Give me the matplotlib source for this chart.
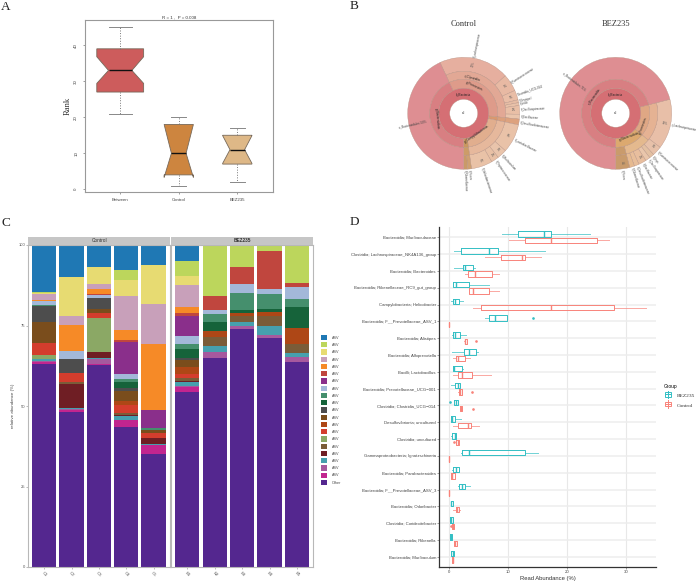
import matplotlib
matplotlib.use("Agg")
import matplotlib.pyplot as plt
from matplotlib.patches import Patch, Rectangle
from matplotlib.lines import Line2D
from matplotlib.legend_handler import HandlerBase
import numpy as np

W, H = 696, 581
SERIF = "Liberation Serif"
SANS = "Liberation Sans"
plt.rcParams["font.family"] = SANS

# ---------- Panel A ----------
a_labels = ["Between", "Control", "BEZ235"]
a_lo = [21, 1, 2]
a_q1 = [27, 4, 7]
a_med = [33, 10, 11]
a_q3 = [39, 18, 15]
a_hi = [45, 20, 17]
a_cilo = [29.4, 3.3, 7.2]
a_cihi = [36.8, 18.0, 14.9]
a_colors = ["#CD5C5C", "#CD853F", "#DEB887"]
a_widths = [0.8, 0.5, 0.5]

# ---------- Panel B ----------
b_titles = ["Control", "BEZ235"]
ctrl_start = 335
ctrl_outer = [73, 18, 10, 3, 3, 9, 5, 6, 30, 10, 8, 22, 4, 4, 155]
ctrl_outer_colors = ["#E6AF9F", "#E8B9A3", "#E9BDA6", "#E6BCA4", "#E9C2A9", "#E9BFA6", "#EAC5AC",
                     "#DDA27E", "#E9C2A8", "#E9C4AB", "#E8C0A5", "#E9C2A7", "#CFA070", "#C99A68", None]
ctrl_outer_names = ["f_Lachnospiraceae", "f_Ruminococcaceae", "Clostridia_UCG-014", "f_Erysipel", "f_unclt",
                    "f_Oscillospiraceae", "f_Bacillaceae", "f_Desulfovibrionaceae", "f_Lactobacillaceae",
                    "f_Muribaculum", "f_Peptococcaceae", "f_Helicobacteraceae", "f_Prevo", "f_Rikenellaceae",
                    "o_Bacteroidales 50%"]
ctrl_mid = [121, 6, 70, 8, 155]
ctrl_mid_colors = ["#E2A895", "#DCA07C", "#E6B89C", "#CC9C68", None]
ctrl_phylum = [121, 6, 70, 8, 155]
ctrl_phylum_colors = ["#DE9B8A", "#D9986F", "#E1AE8E", "#C99860", "#D87F82"]
ctrl_bact = [205, 155]
bez_start = 75.5
bez_outer = [52, 10, 5, 5, 8, 5, 5, 14.5, 255.5]
bez_outer_colors = ["#E8BFA8", "#E7C1A9", "#E3C0A2", "#E9C6AB", "#E8BE9E", "#E8BE9A", "#E6BA90", "#C99B6C", None]
bez_outer_names = ["c_Lachnospiraceae", "f_Ruminococcaceae", "f_Erys", "f_Oscillospiraceae", "f_Bacillaceae",
                   "f_Desulfovibrionaceae", "f_Rikenellaceae", "f_Prevo", "o_Bacteroidales 71%"]
bez_mid = [54, 36, 14.5, 255.5]
bez_mid_colors = ["#E5B293", "#E4B98E", "#C99B6C", None]
bez_phylum = [54, 50.5, 255.5]
bez_phylum_colors = ["#DFA784", "#DCA96F", "#D87F82"]
bez_bact = [104.5, 255.5]
bact_outer_color = "#DE8E92"
kingdom_color = "#D56F74"

# ---------- Panel C ----------
c_samples_ctrl = ["C1", "C2", "C3", "C4", "C5"]
c_samples_bez = ["B1", "B2", "B3", "B4", "B5"]
other = [63.0, 48.1, 62.7, 43.4, 35.1, 54.2, 64.9, 73.9, 71.1, 63.7]
magenta = [0.6, 0.8, 0.3, 2.4, 2.8, 1.6, 0, 0, 0, 0]
mauve = [0.4, 0.2, 1.5, 0, 0, 0.3, 1.9, 0.8, 0.9, 1.4]
teal = [0.5, 0.3, 0.5, 1.2, 0.4, 1.4, 1.8, 1.5, 2.8, 1.5]
darkred = [0, 7.4, 1.8, 0.2, 1.8, 0.3, 0, 0, 0, 0]
olive_brown = [0, 0.5, 0, 0.7, 0, 0.9, 2.8, 1.9, 3.0, 2.6]
olive_green = [1.4, 0, 10.5, 0, 0, 0, 0, 0, 0, 0]
red = [3.6, 2.8, 1.7, 2.3, 1.5, 1.2, 0, 0, 0, 0]
rust = [0, 0, 0, 1.4, 0, 2.3, 2.0, 0.8, 1.4, 4.9]
brown = [6.6, 0, 1.1, 3.2, 0.9, 2.2, 0, 0, 0, 0]
grey = [5.0, 4.6, 3.3, 0.9, 0, 0.4, 0, 0, 0, 0]
darkgreen = [0, 0, 0, 1.8, 0, 2.9, 2.6, 0.9, 0.9, 6.6]
seagreen = [0.3, 0, 0, 0.9, 0.6, 1.5, 2.5, 5.3, 4.8, 2.5]
lightblue = [1.2, 2.3, 1.1, 1.6, 0, 2.5, 1.4, 2.8, 1.4, 3.7]
purple = [0, 0, 0, 10.0, 5.7, 6.3, 0, 0, 0, 0]
brick = [0.1, 0.1, 0.2, 0.6, 0, 0.9, 4.3, 5.3, 11.9, 1.4]
orange = [0.3, 8.0, 1.6, 2.9, 20.5, 1.8, 0, 0, 0, 0]
pink = [1.8, 2.9, 1.6, 10.7, 12.4, 7.0, 0, 0, 0, 0]
yellow = [0.4, 12.0, 5.3, 4.8, 12.1, 2.7, 0, 0, 0, 0]
lime = [0.3, 0, 0, 3.1, 0, 4.7, 15.8, 6.8, 1.4, 11.7]
blue = [14.4, 9.7, 6.8, 7.9, 6.2, 4.9, 0, 0, 0.4, 0]
c_series = [other, magenta, mauve, teal, darkred, olive_brown, olive_green, red, rust, brown, grey,
            darkgreen, seagreen, lightblue, purple, brick, orange, pink, yellow, lime, blue]
c_colors = ["#54278F", "#C2258F", "#A6599E", "#46A0AE", "#6F1E24", "#7A5C38", "#8BA865", "#D33D2D",
            "#AE4716", "#7A4D1C", "#4D4D4D", "#16633A", "#458F6D", "#A3B8D9", "#8A2F8B", "#C0463E",
            "#F68A27", "#C8A0BA", "#E7DB72", "#BCD65C", "#1F78B4"]
c_names = ["Other"] + ["ASV"] * 20

# ---------- Panel D ----------
d_taxa = ["Bacteroidia; Muribaculaceae", "Clostridia; Lachnospiraceae_NK4A136_group", "Bacteroidia; Bacteroides",
          "Bacteroidia; Rikenellaceae_RC9_gut_group", "Campylobacteria; Helicobacter",
          "Bacteroidia; F__Prevotellaceae_ASV_1", "Bacteroidia; Alistipes", "Bacteroidia; Alloprevotella",
          "Bacilli; Lactobacillus", "Bacteroidia; Prevotellaceae_UCG\u2212001", "Clostridia; Clostridia_UCG\u2212014",
          "Desulfovibrionia; uncultured", "Clostridia; uncultured", "Gammaproteobacteria; Ignatzschineria",
          "Bacteroidia; Parabacteroides", "Bacteroidia; F__Prevotellaceae_ASV_3", "Bacteroidia; Odoribacter",
          "Clostridia; Coridexitribacter", "Bacteroidia; Rikenella", "Bacteroidia; Muribaculum"]
bez_lo = [9.0, 0.8, 0.8, 0.6, 0.3, 6.0, 0.5, 0.4, 0.6, 0.2, 0.8, 0.2, 0.2, 2.0, 0.4, 1.4, 0.25, 0.05, 0.05, 0.35]
bez_q1 = [11.7, 1.9, 2.4, 0.7, 0.6, 6.7, 0.6, 2.5, 0.7, 1.0, 0.85, 0.3, 0.5, 2.1, 0.7, 1.6, 0.25, 0.05, 0.05, 0.35]
bez_med = [16.0, 6.7, 2.7, 1.1, 0.9, 7.7, 1.0, 3.3, 0.8, 1.4, 1.1, 0.5, 0.9, 3.4, 1.2, 2.1, 0.35, 0.2, 0.2, 0.6]
bez_q3 = [17.2, 8.2, 4.1, 3.4, 1.7, 9.7, 1.8, 4.6, 2.1, 1.8, 1.4, 1.0, 1.1, 12.9, 1.7, 2.6, 0.55, 0.6, 0.4, 0.75]
bez_hi = [23.8, 16.2, 4.3, 6.7, 2.4, 9.7, 2.9, 4.9, 2.4, 1.8, 1.4, 1.9, 1.1, 15.0, 1.7, 3.5, 0.55, 0.6, 0.4, 0.75]
bez_out = [[], [], [], [], [], [14.2], [], [], [], [], [0.1], [], [], [], [], [], [], [], [], []]
ctl_lo = [10.1, 6.0, 2.6, 3.4, 4.1, 0, 2.5, 0.7, 0.7, 1.5, 1.8, 0.7, 1.1, 0, 0.35, 0, 0.7, 0.5, 0.8, 0.4]
ctl_q1 = [12.8, 8.8, 3.1, 3.4, 5.4, 0, 2.6, 1.2, 1.4, 1.6, 1.8, 1.4, 1.1, 0, 0.35, 0, 1.1, 0.5, 0.8, 0.4]
ctl_med = [17.2, 12.3, 4.4, 4.1, 17.3, 0, 2.7, 1.5, 2.2, 1.8, 2.0, 3.2, 1.4, 0, 0.5, 0, 1.35, 0.7, 1.0, 0.55]
ctl_q3 = [25.0, 12.8, 7.3, 6.8, 27.9, 0, 3.0, 2.6, 3.8, 2.2, 2.2, 3.6, 1.6, 0, 0.9, 0, 1.6, 0.85, 1.25, 0.7]
ctl_hi = [27.1, 15.6, 8.5, 8.5, 33.4, 0, 3.0, 3.5, 7.1, 2.2, 2.2, 5.0, 1.6, 0, 0.9, 0, 1.8, 0.85, 1.25, 0.7]
ctl_out = [[], [], [], [], [], [], [4.5], [], [], [3.8], [4.1], [], [0.8], [], [], [], [], [0.3], [], []]
d_ticks = [0, 10, 20, 30]
d_bez_color = "#33BFC4"
d_ctl_color = "#F8837A"

fig = plt.figure(figsize=(W / 100, H / 100), dpi=100, facecolor="white")


def px_axes(l, t, r, b, **kw):
    return fig.add_axes([l / W, 1 - b / H, (r - l) / W, (b - t) / H], **kw)


def fig_text(x, y, s, **kw):
    fig.text(x / W, 1 - y / H, s, **kw)


# panel letters
for letter, (x, y) in zip("ABCD", [(1, 7), (350, 6), (1, 223), (350, 222)]):
    fig_text(x, y, letter, family=SERIF, fontsize=9.5, va="center", ha="left", color="#222222")

# ---------- Panel A ----------
ax = px_axes(84.5, 20, 273, 192)
stats = [dict(med=m, q1=q1, q3=q3, whislo=lo, whishi=hi, cilo=cl, cihi=ch, fliers=[])
         for m, q1, q3, lo, hi, cl, ch in zip(a_med, a_q1, a_q3, a_lo, a_hi, a_cilo, a_cihi)]
bp = ax.bxp(stats, positions=[1, 2, 3], widths=a_widths, shownotches=True, patch_artist=True, manage_ticks=False,
            boxprops=dict(edgecolor="#77695A", linewidth=0.6),
            medianprops=dict(color="#111111", linewidth=1.0),
            whiskerprops=dict(color="#777777", linestyle=":", linewidth=0.7),
            capprops=dict(color="#888888", linewidth=0.7))
for box, c in zip(bp["boxes"], a_colors):
    box.set_facecolor(c)
ax.set_xlim(0.39, 3.61)
ax.set_ylim(-0.75, 47)
ax.set_xticks([1, 2, 3], a_labels)
ax.set_yticks([0, 10, 20, 30, 40])
ax.tick_params(axis="both", labelsize=3.2, length=1.5, width=0.5, color="#777777", labelcolor="#444444", pad=3)
ax.tick_params(axis="y", labelrotation=90)
for t in ax.get_yticklabels():
    t.set_va("center")
for s in ax.spines.values():
    s.set_color("#999999")
    s.set_linewidth(0.8)
ax.set_ylabel("Rank", family=SERIF, fontsize=6.2, color="#333333", labelpad=2)
ax.set_title("R = 1 ,  P = 0.008", fontsize=3.2, color="#333333", pad=0.8)


# ---------- Panel B ----------
def krona(cx, title, start, outer, outer_cols, names, mid, mid_cols, phylum, phylum_cols, bact):
    a = px_axes(cx - 80, 113.3 - 80, cx + 80, 113.3 + 80)
    sa = 90 - start
    edge = dict(edgecolor="#B48E80", linewidth=0.25)

    def ring(values, colors, r, w):
        wedges, _ = a.pie(values, colors=[c or "white" for c in colors], radius=r, startangle=sa,
                          counterclock=False, wedgeprops=dict(width=w, **edge))
        for wd, c in zip(wedges, colors):
            if c is None:
                wd.set_visible(False)

    ring(outer, outer_cols, 56, 14)
    ring(mid, mid_cols, 42, 8)
    ring(bact, [None, bact_outer_color], 56, 22)
    ring(phylum, phylum_cols, 34, 9)
    ring([1], [kingdom_color], 25, 11)
    a.set_xlim(-80, 80)
    a.set_ylim(-80, 80)
    # labels placed from the slice angles
    ang = start
    for v, n in zip(outer, names):
        mid_a = ang + v / 2
        ang += v
        r0 = 38 if v > 100 else 57
        th = np.deg2rad(90 - mid_a)
        flip = 180 < (mid_a % 360) < 360
        rot = np.rad2deg(th) + (180 if flip else 0)
        a.text(r0 * np.cos(th), r0 * np.sin(th), n, fontsize=2.2, color="#444444", rotation=rot,
               rotation_mode="anchor", va="center", ha="right" if flip else "left")
        if 8 <= v <= 100:
            a.text(50 * np.cos(th), 50 * np.sin(th), f"{v / 3.6:.0f}%", fontsize=2.0, color="#555555",
                   rotation=rot, rotation_mode="anchor", va="center", ha="center")
    a.text(0, 19, "k_Bacteria", fontsize=2.3, ha="center", va="center", color="#222222")
    a.text(0, 0, "all", fontsize=2.3, ha="center", va="center", color="#222222")
    fig_text(cx, 24.5, title, family=SERIF, fontsize=6, ha="center", va="center", color="#333333")
    return a


a1 = krona(463.7, b_titles[0], ctrl_start, ctrl_outer, ctrl_outer_colors, ctrl_outer_names, ctrl_mid,
           ctrl_mid_colors, ctrl_phylum, ctrl_phylum_colors, ctrl_bact)
a1.text(9, 35.5, "c_Clostridia", fontsize=2.3, rotation=-15, ha="center", va="center", color="#222222")
a1.text(10, 27, "p_Firmicutes", fontsize=2.3, rotation=-25, ha="center", va="center", color="#222222")
a1.text(-27, -5, "p_Bacteroidota", fontsize=2.3, rotation=-85, ha="center", va="center", color="#222222")
a1.text(13, -21, "p_Campylobacterota", fontsize=2.3, rotation=35, ha="center", va="center", color="#222222")
a2 = krona(615.7, b_titles[1], bez_start, bez_outer, bez_outer_colors, bez_outer_names, bez_mid,
           bez_mid_colors, bez_phylum, bez_phylum_colors, bez_bact)
a2.text(-22, 17, "c_Bacteroidia", fontsize=2.3, rotation=55, ha="center", va="center", color="#222222")
a2.text(27, -12, "p_Firmicutes", fontsize=2.3, rotation=70, ha="center", va="center", color="#222222")
a2.text(13, -23, "p_Bacteroidota", fontsize=2.3, rotation=20, ha="center", va="center", color="#222222")

# ---------- Panel C ----------
facets = [(28.3, 170.0, -0.58, 4.6, c_samples_ctrl, 0, "Control"),
          (170.8, 313.0, -0.6, 4.58, c_samples_bez, 5, "BEZ235")]
for i, (l, r, x0, x1, samples, off, label) in enumerate(facets):
    ax = px_axes(l, 245, r, 567)
    bottom = np.zeros(5)
    for vals, col in zip(c_series, c_colors):
        v = np.array(vals[off:off + 5], float)
        ax.bar(range(5), v, width=0.89, bottom=bottom, color=col, linewidth=0)
        bottom += v
    ax.set_xlim(x0, x1)
    ax.set_ylim(0, 100)
    ax.set_xticks(range(5), samples, rotation=-45, ha="center", rotation_mode="default")
    ax.tick_params(axis="x", labelsize=3.2, length=1.2, width=0.4, color="#888888", labelcolor="#555555", pad=1.5)
    if i == 0:
        ax.set_yticks([0, 25, 50, 75, 100])
        ax.tick_params(axis="y", labelsize=3.0, length=1.2, width=0.4, color="#888888", labelcolor="#555555", pad=0.8)
        ax.set_ylabel("relative abundance (%)", fontsize=3.2, color="#444444", labelpad=2.5)
    else:
        ax.set_yticks([])
    for s in ax.spines.values():
        s.set_color("#B8B8B8")
        s.set_linewidth(0.8)
    st = px_axes(l, 237, r, 245)
    st.set_facecolor("#C6C6C6")
    st.set_xticks([])
    st.set_yticks([])
    for s in st.spines.values():
        s.set_visible(False)
    st.text(0.5, 0.5, label, transform=st.transAxes, ha="center", va="center", fontsize=3.4,
            color="#333333", fontweight="bold" if i else "normal")

handles = [Patch(facecolor=c, edgecolor="none") for c in c_colors[::-1]]
fig.legend(handles, c_names[::-1], loc="upper left", bbox_to_anchor=(320.7 / W, 1 - 335 / H), frameon=False,
           fontsize=2.7, labelcolor="#444444", handlelength=1.76, handleheight=1.75, labelspacing=0.55,
           handletextpad=1.2, borderpad=0, borderaxespad=0)

# ---------- Panel D ----------
ax = px_axes(439.3, 227, 655.7, 567)
y = np.arange(len(d_taxa))
for g_lo, g_q1, g_med, g_q3, g_hi, g_out, col, off in [
    (bez_lo, bez_q1, bez_med, bez_q3, bez_hi, bez_out, d_bez_color, -0.19),
    (ctl_lo, ctl_q1, ctl_med, ctl_q3, ctl_hi, ctl_out, d_ctl_color, 0.19),
]:
    st = [dict(med=m, q1=a, q3=b, whislo=lo, whishi=hi, fliers=o)
          for m, a, b, lo, hi, o in zip(g_med, g_q1, g_q3, g_lo, g_hi, g_out)]
    ax.bxp(st, positions=y + off, widths=0.32, orientation="horizontal", manage_ticks=False, showcaps=False,
           boxprops=dict(color=col, linewidth=0.7),
           medianprops=dict(color=col, linewidth=1.0),
           whiskerprops=dict(color=col, linewidth=0.7, alpha=0.7),
           flierprops=dict(marker="o", markersize=0.9, markerfacecolor=col, markeredgecolor=col, linewidth=0))
ax.set_xlim(-1.7, 35)
ax.set_ylim(19.6, -0.61)
ax.set_yticks(y, d_taxa)
ax.set_xticks(d_ticks)
ax.set_axisbelow(True)
ax.grid(True, axis="y", color="#EDEDED", linewidth=1.1)
ax.grid(True, axis="x", color="#E8E8E8", linewidth=0.8)
ax.tick_params(axis="both", labelsize=3.05, length=1.2, width=0.4, color="#555555", labelcolor="#444444", pad=1.2)
for side in ["top", "right"]:
    ax.spines[side].set_visible(False)
for side in ["left", "bottom"]:
    ax.spines[side].set_color("#333333")
    ax.spines[side].set_linewidth(0.9)
ax.set_xlabel("Read Abundance (%)", fontsize=4.2, color="#333333", labelpad=1.5)


class BoxKey(HandlerBase):
    def create_artists(self, legend, orig, xd, yd, w, h, fs, trans):
        c = orig.get_color()
        kw = dict(color=c, linewidth=0.7, transform=trans)
        rect = Rectangle((0.1 * w, 0.15 * h), 0.8 * w, 0.7 * h, fill=False, edgecolor=c, linewidth=0.7, transform=trans)
        return [rect, Line2D([0.1 * w, 0.9 * w], [0.5 * h] * 2, **kw),
                Line2D([0.5 * w] * 2, [-0.1 * h, 1.1 * h], **kw)]


leg_handles = [Line2D([], [], color=d_bez_color), Line2D([], [], color=d_ctl_color)]
leg = fig.legend(leg_handles, ["BEZ235", "Control"], loc="upper left", bbox_to_anchor=(664 / W, 1 - 384 / H),
                 frameon=False, handler_map={Line2D: BoxKey()}, title="Group",
                 prop=dict(family=SERIF, size=3.9), title_fontproperties=dict(family=SANS, size=3.5),
                 handlelength=1.5, handleheight=1.4, labelspacing=0.65, handletextpad=0.8, borderpad=0,
                 borderaxespad=0, alignment="left", labelcolor="#333333")

fig.savefig("out.png", dpi=100)
